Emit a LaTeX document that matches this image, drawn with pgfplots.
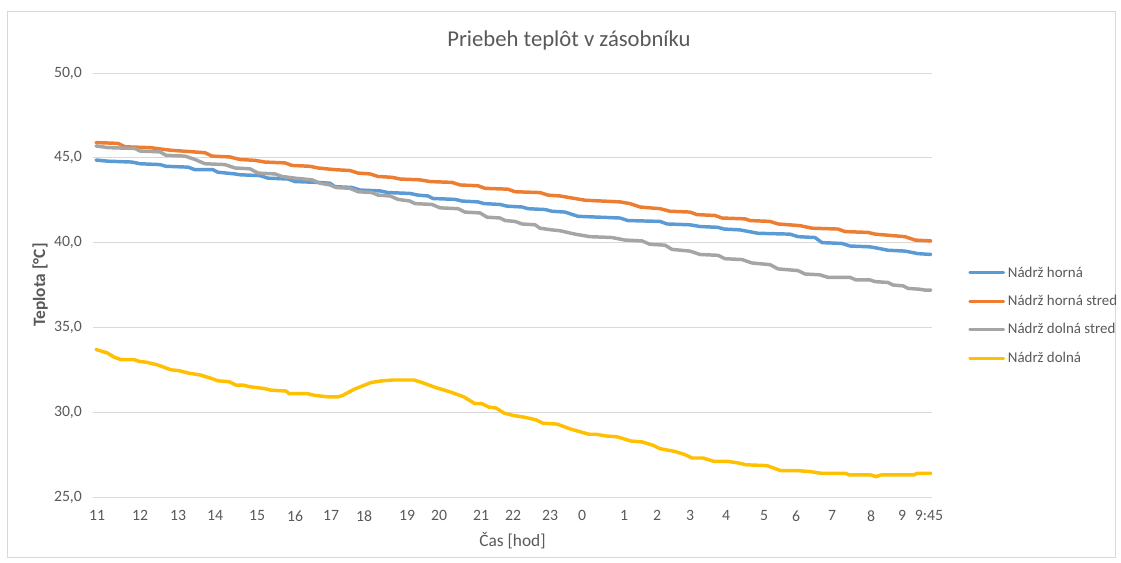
\documentclass[border=0pt]{standalone}
\usepackage{fontspec}
\setmainfont{Carlito}
\usepackage{pgfplots}
\pgfplotsset{compat=1.18}
\definecolor{txt}{HTML}{595959}
\definecolor{gridc}{HTML}{D9D9D9}
\definecolor{cblue}{HTML}{5B9BD5}
\definecolor{corange}{HTML}{ED7D31}
\definecolor{cgray}{HTML}{A5A5A5}
\definecolor{cgold}{HTML}{FFC000}

\begin{document}
\begin{tikzpicture}
\begin{scope}[x=0.75pt,y=-0.75pt]
  \path (0,0) rectangle (1121,562);
  \draw[gridc,line width=0.75pt] (7,11) rectangle (1115,557);
  \node[font=\fontsize{17}{20}\selectfont,text=txt] at (569,40) {Priebeh teplôt v zásobníku};
\end{scope}
\begin{axis}[
    at={(69.75pt,-372.75pt)}, anchor=south west,
    scale only axis, width=629.25pt, height=318pt,
    xmin=93, xmax=932, ymin=25, ymax=50,
    axis line style={draw=none},
    major tick length=0pt,
    ymajorgrids=true,
    grid style={gridc,line width=0.75pt},
    ytick={25,30,35,40,45,50},
    yticklabels={{25,0},{30,0},{35,0},{40,0},{45,0},{50,0}},
    xtick={97,140,178,215,257,295,331,364,407,439,481,513,550,582,624,657,690,726,764,796,832,871,902,929},
    xticklabels={11,12,13,14,15,16,17,18,19,20,21,22,23,0,1,2,3,4,5,6,7,8,9,9:45},
    tick label style={font=\fontsize{11.8}{14}\selectfont,text=txt},
    yticklabel style={xshift=-4.8pt},
    xticklabel style={yshift=-6.6pt},
    xlabel={Čas [hod]},
    ylabel={Teplota [°C]},
    label style={font=\fontsize{13}{15}\selectfont,text=txt},
    xlabel style={at={(axis description cs:0.5,-0.1038)},anchor=center},
    ylabel style={at={(axis description cs:-0.063,0.5)},anchor=center,font=\fontsize{13}{15}\selectfont\bfseries},
    legend style={at={(axis description cs:1.0429,0.55)},anchor=north west,
        draw=none,fill=none,font=\fontsize{11.2}{13}\selectfont,text=txt,
        row sep=8pt,inner sep=0pt},
    legend cell align=left,
    legend image code/.code={\draw[#1,line width=2.2pt] (0pt,0pt) -- (25.5pt,0pt);},
    every axis plot/.append style={line width=2.6pt,line join=round,line cap=round},
]

\addplot[cblue] coordinates {
(96,44.87)(108,44.8)(132,44.75)(140,44.65)(160,44.6)(166,44.5)(188,44.45)(195,44.3)
(213,44.3)(218,44.15)(235,44.05)(240,44.0)(260,43.95)(268,43.8)(288,43.75)(295,43.6)
(318,43.55)(330,43.5)(335,43.3)(352,43.25)(360,43.1)(380,43.05)(388,42.95)(410,42.9)
(418,42.8)(428,42.75)(433,42.6)(455,42.55)(462,42.45)(478,42.4)(484,42.3)(500,42.25)
(507,42.15)(522,42.1)(528,42.0)(545,41.95)(552,41.85)(565,41.8)(578,41.55)(620,41.45)
(628,41.3)(660,41.25)(667,41.1)(690,41.05)(700,40.95)(718,40.9)(724,40.8)(740,40.75)
(758,40.55)(790,40.5)(798,40.35)(815,40.3)(822,40.0)(842,39.95)(850,39.8)(870,39.75)
(875,39.7)(888,39.55)(905,39.5)(918,39.35)(931,39.3)
};
\addplot[corange] coordinates {
(96,45.9)(118,45.85)(125,45.65)(150,45.6)(170,45.45)(205,45.3)(212,45.1)(230,45.05)
(240,44.9)(255,44.85)(265,44.75)(285,44.7)(292,44.55)(310,44.5)(318,44.4)(335,44.3)
(350,44.25)(358,44.1)(370,44.05)(378,43.9)(392,43.85)(400,43.75)(420,43.7)(430,43.6)
(452,43.55)(460,43.4)(478,43.35)(485,43.2)(508,43.15)(515,43.0)(540,42.95)(548,42.8)
(560,42.75)(585,42.5)(620,42.4)(630,42.3)(640,42.1)(660,42.0)(670,41.85)(690,41.8)
(697,41.65)(715,41.6)(722,41.45)(745,41.4)(750,41.3)(770,41.25)(778,41.1)(800,41.0)
(812,40.85)(838,40.8)(845,40.65)(868,40.6)(875,40.5)(885,40.45)(905,40.35)(915,40.15)
(931,40.1)
};
\addplot[cgray] coordinates {
(96,45.7)(108,45.6)(135,45.55)(140,45.4)(160,45.35)(166,45.15)(185,45.1)(195,44.9)
(205,44.65)(225,44.6)(235,44.4)(250,44.35)(258,44.1)(275,44.05)(282,43.9)(295,43.8)
(312,43.7)(320,43.5)(330,43.4)(336,43.25)(350,43.2)(358,43.0)(372,42.95)(378,42.8)
(390,42.75)(398,42.55)(410,42.45)(415,42.3)(432,42.25)(440,42.05)(458,42.0)(465,41.8)
(480,41.75)(487,41.5)(500,41.45)(505,41.3)(515,41.25)(522,41.1)(535,41.05)(540,40.85)
(552,40.75)(560,40.7)(575,40.5)(590,40.35)(612,40.3)(625,40.15)(642,40.1)(650,39.9)
(665,39.85)(672,39.6)(690,39.5)(700,39.3)(718,39.25)(725,39.05)(742,39.0)(752,38.8)
(770,38.7)(778,38.45)(798,38.35)(805,38.15)(820,38.1)(828,37.95)(850,37.95)(856,37.8)
(870,37.8)(875,37.7)(888,37.65)(893,37.5)(903,37.45)(908,37.3)(920,37.25)(925,37.2)
(931,37.2)
};
\addplot[cgold] coordinates {
(96,33.7)(107,33.5)(114,33.25)(121,33.1)(134,33.1)(139,33.0)(146,32.95)(157,32.8)
(171,32.5)(179,32.45)(189,32.3)(200,32.2)(211,32.0)(218,31.85)(229,31.8)(236,31.6)
(243,31.6)(250,31.5)(264,31.4)(271,31.3)(286,31.25)(289,31.1)(307,31.1)(314,31.0)
(321,30.95)(329,30.9)(338,30.9)(343,31.0)(354,31.35)(371,31.75)(382,31.85)(393,31.9)
(414,31.9)(422,31.75)(429,31.6)(436,31.45)(450,31.2)(464,30.9)(475,30.5)(482,30.5)
(489,30.3)(496,30.25)(504,29.95)(514,29.8)(525,29.7)(536,29.55)(543,29.35)(557,29.3)
(571,29.0)(589,28.7)(596,28.7)(606,28.6)(617,28.55)(631,28.3)(642,28.25)(653,28.05)
(660,27.85)(674,27.7)(685,27.5)(692,27.3)(703,27.3)(714,27.1)(728,27.1)(739,27.0)
(746,26.9)(767,26.85)(774,26.7)(781,26.55)(799,26.55)(810,26.5)(821,26.4)(846,26.4)
(849,26.3)(871,26.3)(876,26.2)(881,26.3)(914,26.3)(917,26.4)(931,26.4)
};
\legend{Nádrž horná,Nádrž horná stred,Nádrž dolná stred,Nádrž dolná}
\end{axis}
\end{tikzpicture}
\end{document}
